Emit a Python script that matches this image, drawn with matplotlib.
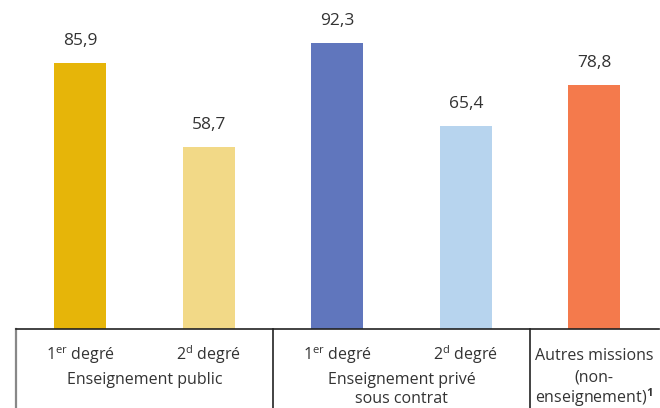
import matplotlib.pyplot as plt
import numpy as np

plt.rcParams['font.family'] = ['Open Sans', 'DejaVu Sans']
plt.rcParams['mathtext.fontset'] = 'custom'
plt.rcParams['mathtext.rm'] = 'Open Sans'
plt.rcParams['mathtext.bf'] = 'Open Sans:bold'

values = [85.9, 58.7, 92.3, 65.4, 78.8]
bar_labels = ['85,9', '58,7', '92,3', '65,4', '78,8']
colors = ['#E6B509', '#F2D987', '#6076BD', '#B7D4EE', '#F47A4C']
sub_labels = ['1$^{\\mathrm{er}}$ degré', '2$^{\\mathrm{d}}$ degré',
              '1$^{\\mathrm{er}}$ degré', '2$^{\\mathrm{d}}$ degré']
group_labels = [['Enseignement public'], ['Enseignement privé', 'sous contrat']]
other_label = ['Autres missions', '(non-', 'enseignement)$^{\\mathbf{1}}$']

fig = plt.figure(figsize=(6.6, 4.08), dpi=100)
ax = fig.add_axes([16 / 660, 1 - 329 / 408, 642.5 / 660, 329 / 408])

x = np.arange(len(values))
ax.bar(x, values, width=0.405, color=colors)
for xi, v, lab in zip(x, values, bar_labels):
    ax.annotate(lab, (xi, v), xytext=(0, 10), textcoords='offset points',
                ha='center', va='bottom', fontsize=12.5, color='#333333')

ax.set_xlim(-0.5, 4.5)
ax.set_ylim(0, 329 / 3.1)
for s in ['top', 'right', 'left']:
    ax.spines[s].set_visible(False)
ax.spines['bottom'].set_color('#222222')
ax.spines['bottom'].set_linewidth(1.2)
ax.set_xticks([])
ax.set_yticks([])

# box lines under the axis
low = -80 / 3.1
ax.plot([-0.5, -0.5], [0, low], color='#888888', lw=1.6, clip_on=False)
for xs in [1.5, 3.5]:
    ax.plot([xs, xs], [0, low], color='#222222', lw=1.2, clip_on=False)


def fx(xv):
    return ax.transData.transform((xv, 0))[0] / 660


def put(xv, ypix, s):
    # ypix = baseline position in pixels from the top
    fig.text(fx(xv), 1 - ypix / 408, s, ha='center', va='baseline',
             fontsize=11.5, color='#333333')


for xi, lab in zip(x[:4], sub_labels):
    put(xi, 360, lab)
for gx, lines in zip([0.5, 2.5], group_labels):
    for i, s in enumerate(lines):
        put(gx, 384 + 19 * i, s)
for i, s in enumerate(other_label):
    put(4, 360 + 21.5 * i, s)

fig.savefig('out.png', dpi=100)
